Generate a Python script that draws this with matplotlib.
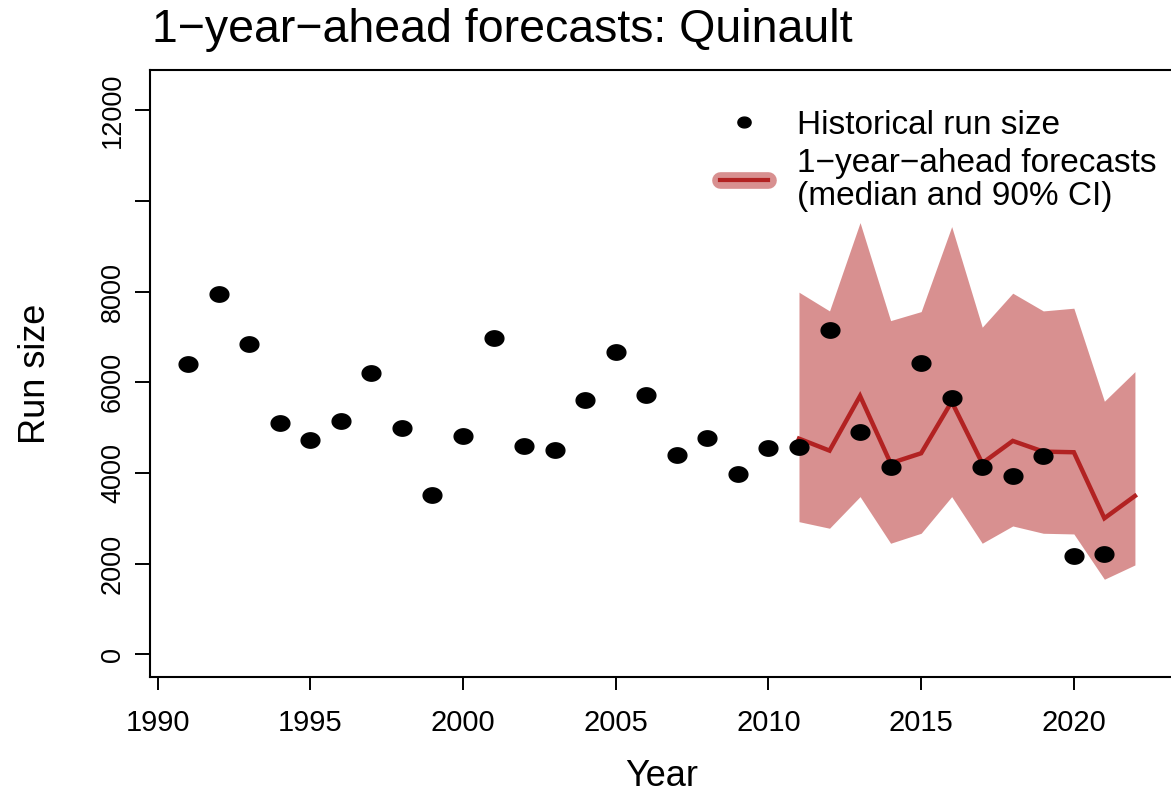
import numpy as np
import matplotlib
matplotlib.use("Agg")
import matplotlib.pyplot as plt
from matplotlib.path import Path
from matplotlib.lines import Line2D

# ---------------- data ----------------
years_hist = list(range(1991, 2022))
run_size = [6411, 7948, 6852, 5096, 4721, 5140, 6199, 4986, 3514, 4822,
            6984, 4595, 4507, 5603, 6676, 5727, 4403, 4772, 3971, 4544,
            4580, 7148, 4911, 4139, 6433, 5648, 4139, 3933, 4381, 2169, 2213]

years_fc = list(range(2011, 2023))
fc_median = [4756, 4492, 5698, 4214, 4434, 5572, 4214, 4706, 4470, 4456, 3000, 3492]
fc_upper = [7986, 7573, 9521, 7359, 7558, 9433, 7214, 7964, 7573, 7633, 5581, 6234]
fc_lower = [2925, 2780, 3477, 2449, 2669, 3477, 2449, 2830, 2669, 2654, 1655, 1970]

x_ticks = [1990, 1995, 2000, 2005, 2010, 2015, 2020]
y_ticks = [0, 2000, 4000, 6000, 8000, 10000, 12000]
y_tick_labels = ["0", "2000", "4000", "6000", "8000", "", "12000"]

title = "1\u2212year\u2212ahead forecasts: Quinault"
leg_labels = ["Historical run size", "1\u2212year\u2212ahead forecasts\n(median and 90% CI)"]

# ---------------- style ----------------
plt.rcParams['font.family'] = ['Liberation Sans', 'DejaVu Sans']
W, H = 1171, 793
fig = plt.figure(figsize=(W / 100, H / 100), dpi=100)

left, right, top, bottom = 150.3, 1172.8, 70.3, 676.5
ax = fig.add_axes([left / W, 1 - bottom / H, (right - left) / W, (bottom - top) / H])

red = "#b22222"

# elliptical dot marker (wider than tall)
t = np.linspace(0, 2 * np.pi, 64)
verts = np.column_stack([1.22 * np.cos(t), np.sin(t)])
dot = Path(verts, closed=True)

ax.fill_between(years_fc, fc_lower, fc_upper, color=red, alpha=0.5, lw=0, zorder=1)
ax.plot(years_fc, fc_median, color=red, lw=3.2, zorder=2, solid_joinstyle='miter')
ax.plot(years_hist, run_size, ls='none', marker=dot, markersize=13.5,
        color='black', zorder=3)

ax.set_xlim(1989.76, 2023.24)
ax.set_ylim(-490, 12880)

ax.set_xticks(x_ticks)
ax.set_xticklabels([str(v) for v in x_ticks], fontsize=21)
ax.set_yticks(y_ticks)
ax.set_yticklabels(y_tick_labels, fontsize=19.5, rotation=90, va='center')

ax.tick_params(axis='x', length=9.5, width=1.4, pad=14, direction='out')
ax.tick_params(axis='y', length=10.5, width=1.4, pad=7, direction='out')
for s in ax.spines.values():
    s.set_linewidth(1.5)

ax.set_xlabel("Year", fontsize=26, labelpad=16)
ax.set_ylabel("Run size", fontsize=26, labelpad=34)

fig.text(152 / W, 1 - 42 / H, title, fontsize=33.5, ha='left', va='baseline')

# legend
fs = 24
h1 = Line2D([], [], ls='none', marker=dot, markersize=9.5, color='black')
h2a = Line2D([], [], color=red, alpha=0.5, lw=12, solid_capstyle='round')
h2b = Line2D([], [], color=red, lw=3)
leg = ax.legend([h1, (h2a, h2b)], leg_labels, loc='upper left',
                bbox_to_anchor=(720 / W, 1 - 110 / H), bbox_transform=fig.transFigure,
                frameon=False, fontsize=fs, handlelength=1.44, handletextpad=0.87,
                borderpad=0, borderaxespad=0, labelspacing=0.2)
for txt in leg.get_texts():
    txt.set_linespacing(1.08)

fig.savefig("out.png", dpi=100)
